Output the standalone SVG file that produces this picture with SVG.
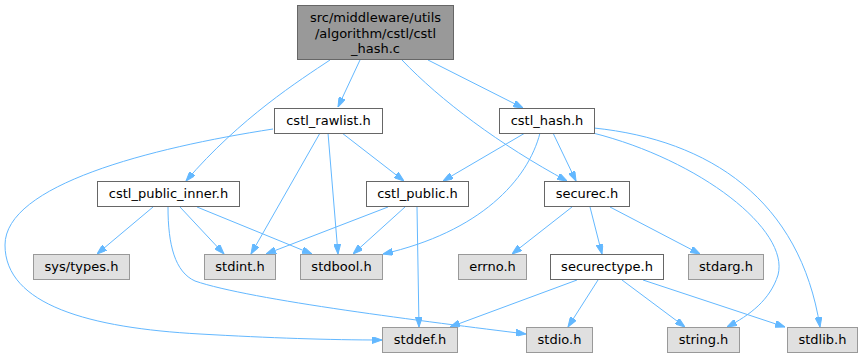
<svg xmlns="http://www.w3.org/2000/svg" width="865" height="359" viewBox="0 0 865 359">
<style>
.n rect{fill:#ffffff;stroke:#666666;stroke-width:1}
.g rect{fill:#e0e0e0;stroke:#999999;stroke-width:1}
.m rect{fill:#999999;stroke:#666666;stroke-width:1}
text{font-family:"DejaVu Sans",sans-serif;font-size:13px;fill:#000000;text-anchor:middle}
#edges path{fill:none;stroke:#63b8ff;stroke-width:1;marker-end:url(#ah)}
</style>
<defs>
<marker id="ah" viewBox="0 0 10 7" refX="10" refY="3.5" markerWidth="10" markerHeight="7" markerUnits="userSpaceOnUse" orient="auto">
<path d="M0,0 L10,3.5 L0,7 z" fill="#63b8ff" stroke="#63b8ff" stroke-width="1"/>
</marker>
</defs>
<rect width="865" height="359" fill="#ffffff"/>
<g id="edges">
<path d="M330,60 C300,80 240,118 186,181"/>
<path d="M360,60 L338,107"/>
<path d="M402,60 C440,100 500,145 567,181"/>
<path d="M428,60 L523,108"/>
<path d="M273,129 C150,148 5,185 5,245 C5,305 90,328 200,334 C270,338 330,340 382,340"/>
<path d="M320,133 L251,254"/>
<path d="M328,133 L338,254"/>
<path d="M342,133 L404,181"/>
<path d="M525,133 L443,181"/>
<path d="M540,133 C528,180 480,232 383,254"/>
<path d="M553,133 L576,181"/>
<path d="M593,133 C700,160 790,230 778,275 C770,300 750,315 727,327"/>
<path d="M594,128 C710,140 800,200 820,327"/>
<path d="M153,207 L97,254"/>
<path d="M180,207 L224,254"/>
<path d="M197,207 L312,254"/>
<path d="M168,207 C168,245 175,272 195,281 C250,300 430,322 526,334"/>
<path d="M388,207 L266,254"/>
<path d="M405,207 L353,254"/>
<path d="M417,207 L419,327"/>
<path d="M572,207 L512,254"/>
<path d="M590,207 L602,254"/>
<path d="M610,207 L700,254"/>
<path d="M577,280 L450,327"/>
<path d="M598,280 L568,327"/>
<path d="M622,280 L685,327"/>
<path d="M643,280 L785,327"/>
</g>
<g id="node_main" class="m"><rect x="297.5" y="5.5" width="156" height="54"/><text x="375.5" y="22">src/middleware/utils</text><text x="375.5" y="37.5">/algorithm/cstl/cstl</text><text x="375.5" y="53">_hash.c</text></g>
<g id="node_rawlist" class="n"><rect x="274.5" y="108.5" width="108" height="25"/><text x="328.5" y="125">cstl_rawlist.h</text></g>
<g id="node_hash" class="n"><rect x="499.5" y="108.5" width="95" height="25"/><text x="547" y="125">cstl_hash.h</text></g>
<g id="node_public_inner" class="n"><rect x="97.5" y="181.5" width="142" height="25"/><text x="168.5" y="198">cstl_public_inner.h</text></g>
<g id="node_public" class="n"><rect x="366.5" y="181.5" width="102" height="25"/><text x="417.5" y="198">cstl_public.h</text></g>
<g id="node_securec" class="n"><rect x="544.5" y="181.5" width="85" height="25"/><text x="587" y="198">securec.h</text></g>
<g id="node_systypes" class="g"><rect x="33.5" y="254.5" width="96" height="25"/><text x="81.5" y="271">sys/types.h</text></g>
<g id="node_stdint" class="g"><rect x="204.5" y="254.5" width="71" height="25"/><text x="240" y="271">stdint.h</text></g>
<g id="node_stdbool" class="g"><rect x="300.5" y="254.5" width="82" height="25"/><text x="341.5" y="271">stdbool.h</text></g>
<g id="node_errno" class="g"><rect x="458.5" y="254.5" width="68" height="25"/><text x="492.5" y="271">errno.h</text></g>
<g id="node_securectype" class="n"><rect x="550.5" y="254.5" width="113" height="25"/><text x="607" y="271">securectype.h</text></g>
<g id="node_stdarg" class="g"><rect x="688.5" y="254.5" width="75" height="25"/><text x="726" y="271">stdarg.h</text></g>
<g id="node_stddef" class="g"><rect x="382.5" y="327.5" width="75" height="25"/><text x="420" y="344">stddef.h</text></g>
<g id="node_stdio" class="g"><rect x="526.5" y="327.5" width="66" height="25"/><text x="559.5" y="344">stdio.h</text></g>
<g id="node_string" class="g"><rect x="667.5" y="327.5" width="72" height="25"/><text x="703.5" y="344">string.h</text></g>
<g id="node_stdlib" class="g"><rect x="787.5" y="327.5" width="70" height="25"/><text x="822.5" y="344">stdlib.h</text></g>
</svg>
